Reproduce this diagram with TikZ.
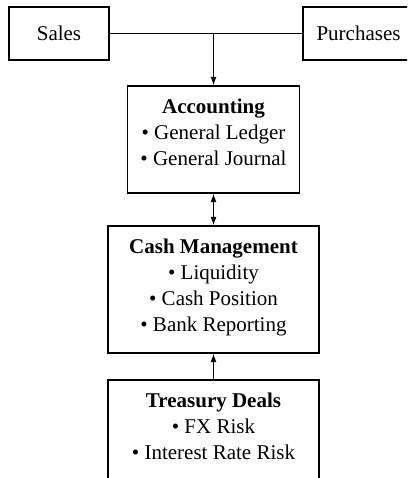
\documentclass[tikz,border=0pt]{standalone}
\usepackage{fontspec}
\setmainfont{Liberation Serif}
\usetikzlibrary{arrows.meta, positioning, calc}

\begin{document}
\begin{tikzpicture}[
    x=1pt, y=-1pt,
    every node/.style={align=center, font=\fontsize{21}{26}\selectfont},
    box/.style={rectangle, draw=black, line width=1.2pt, inner sep=0pt},
    boxtext/.style={inner sep=0pt},
    arrow/.style={-{Latex[length=8.5pt, width=6pt]}, line width=1.2pt},
    twoway/.style={{Latex[length=8.5pt, width=6pt]}-{Latex[length=8.5pt, width=6pt]}, line width=1.2pt}
]
\useasboundingbox (0,0) rectangle (407,478);
\clip (0,0) rectangle (407,478);

% Nodes
\node[box, minimum width=100pt, minimum height=53pt] (sales) at (59,33.5) {Sales};
\node[box, minimum width=111pt, minimum height=53pt] (purchases) at (358.5,33.5) {Purchases};

\node[box, minimum width=172pt, minimum height=107pt] (acct) at (213.5,139.5) {};
\node[boxtext, below=13pt of acct.north] (accttext) {\textbf{Accounting}\\\textbullet\ General Ledger\\\textbullet\ General Journal};

\node[box, minimum width=211pt, minimum height=127pt] (cash) at (213.5,289.5) {};
\node[boxtext, below=13pt of cash.north] (cashtext) {\textbf{Cash Management}\\\textbullet\ Liquidity\\\textbullet\ Cash Position\\\textbullet\ Bank Reporting};

\node[box, minimum width=211pt, minimum height=127pt] (deals) at (213.5,443.5) {};
\node[boxtext, below=13pt of deals.north] (dealstext) {\textbf{Treasury Deals}\\\textbullet\ FX Risk\\\textbullet\ Interest Rate Risk};

\coordinate (join) at (sales.east -| acct.north);

% Arrows
\draw[line width=1.2pt] (sales) -- (purchases);
\draw[arrow] (join) -- (acct);
\draw[twoway] (acct) -- (cash);
\draw[arrow] (deals) -- (cash);

\end{tikzpicture}
\end{document}
